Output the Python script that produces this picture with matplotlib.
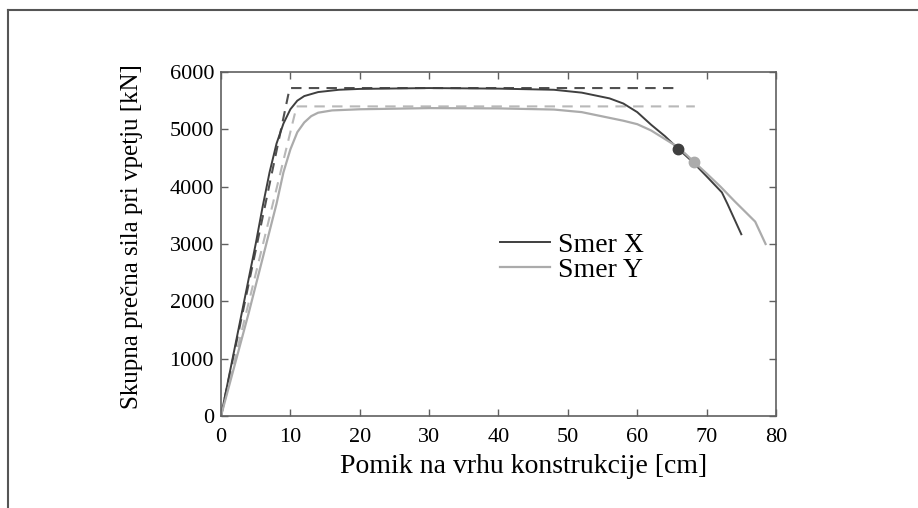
import matplotlib.pyplot as plt
from matplotlib.lines import Line2D

plt.rcParams['font.family'] = ['Liberation Serif', 'DejaVu Serif']

# pushover curves
x_smer_x = [0, 2, 4, 5, 6, 7, 8, 9, 10, 11, 12, 14, 17, 20, 30, 40, 48, 52, 56, 58, 60, 62, 64, 66, 68, 70, 72.2, 73, 75]
v_smer_x = [0, 1200, 2400, 3000, 3650, 4250, 4750, 5100, 5350, 5500, 5580, 5650, 5690, 5705, 5720, 5710, 5690, 5640,
            5540, 5450, 5300, 5080, 4880, 4650, 4430, 4180, 3900, 3700, 3170]
x_smer_y = [0, 2, 4, 6, 8, 9, 10, 11, 12, 13, 14, 16, 20, 30, 40, 48, 52, 56, 58, 60, 62, 64, 66, 68.2, 70, 72, 74, 77, 78.5]
v_smer_y = [0, 900, 1800, 2750, 3700, 4250, 4650, 4950, 5120, 5230, 5290, 5330, 5350, 5370, 5365, 5345, 5300, 5200,
            5150, 5090, 4980, 4830, 4680, 4430, 4230, 4000, 3750, 3390, 3000]

# idealised bilinear curves
x_bil_x = [0, 9.9, 66.1]
v_bil_x = [0, 5720, 5720]
x_bil_y = [0, 10.9, 68.3]
v_bil_y = [0, 5400, 5400]

# target points
pt_x = (65.9, 4660)
pt_y = (68.2, 4430)

dark = '#3f3f3f'
light = '#ababab'

fig = plt.figure(figsize=(9.18, 5.08), dpi=100)
ax = fig.add_axes([221 / 918, 92 / 508, 555 / 918, 344 / 508])

ax.plot(x_bil_x, v_bil_x, color='#505050', lw=1.5, ls=(0, (5, 3.5)))
ax.plot(x_bil_y, v_bil_y, color='#b8b8b8', lw=1.5, ls=(0, (5, 3.5)))
ax.plot(x_smer_x, v_smer_x, color=dark, lw=1.4, label='Smer X')
ax.plot(x_smer_y, v_smer_y, color=light, lw=1.6, label='Smer Y')
ax.plot(*pt_x, 'o', color=dark, ms=7.5)
ax.plot(*pt_y, 'o', color=light, ms=7.5)

ax.set_xlim(0, 80)
ax.set_ylim(0, 6000)
ax.set_xticks(range(0, 81, 10))
ax.set_yticks(range(0, 6001, 1000))
ax.tick_params(direction='in', top=True, right=True, length=5, width=1, color='#606060',
               labelsize=16)
ax.tick_params(axis='x', pad=9)
ax.tick_params(axis='y', pad=5)
for s in ax.spines.values():
    s.set_color('#606060')
    s.set_linewidth(1.2)

ax.set_xlabel('Pomik na vrhu konstrukcije [cm]', fontsize=20)
ax.set_ylabel('Skupna prečna sila pri vpetju [kN]', fontsize=18)
ax.xaxis.set_label_coords(0.546, -0.11)
ax.yaxis.set_label_coords(-0.14, 0.523)

ax.legend(loc='upper left', bbox_to_anchor=(0.477, 0.575), frameon=False, fontsize=20,
          handlelength=1.8, handletextpad=0.3, labelspacing=0.0, borderpad=0)

# outer frame of the page
fig.add_artist(Line2D([8 / 918, 8 / 918], [0, 1 - 10 / 508], color='#555555', lw=1.5))
fig.add_artist(Line2D([8 / 918, 1], [1 - 10 / 508, 1 - 10 / 508], color='#555555', lw=1.5))

fig.savefig('out.png', dpi=100)
